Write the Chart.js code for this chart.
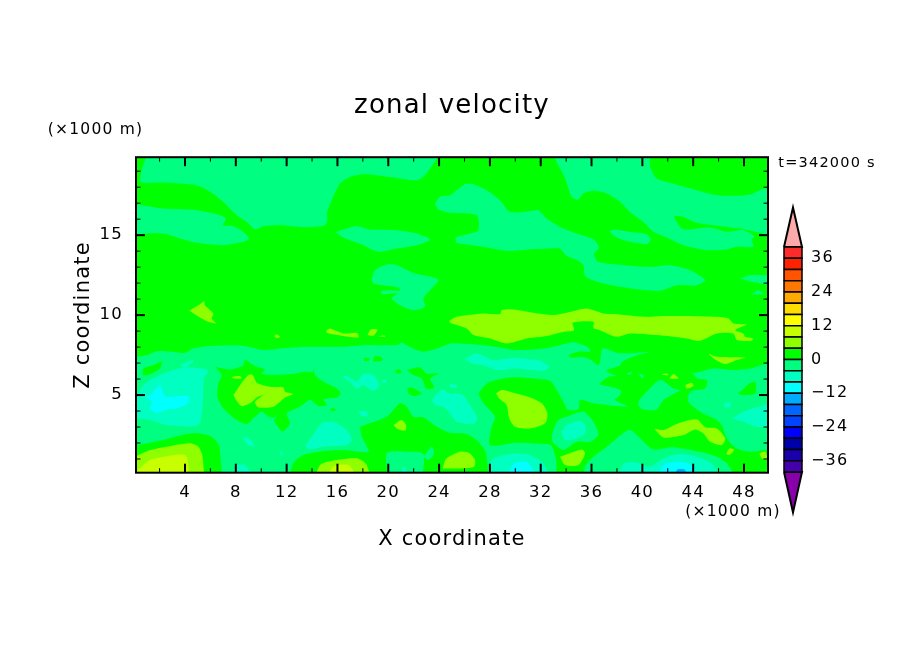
<!DOCTYPE html>
<html>
<head>
<meta charset="utf-8">
<title>zonal velocity</title>
<script src="https://cdn.jsdelivr.net/npm/chart.js@4/dist/chart.umd.min.js"></script>
<style>
  html, body { margin: 0; padding: 0; background: #fff; }
  #wrap { position: relative; width: 904px; height: 654px; overflow: hidden; }
  canvas { position: absolute; display: block; }
  #field { left: 0; top: 0; }
  #bar { left: 770px; top: 189px; }
</style>
</head>
<body>
<div id="wrap">
  <canvas id="field" width="904" height="654"></canvas>
  <canvas id="bar" width="100" height="342"></canvas>
</div>
<script>
'use strict';
// contour bands: [x km, z km] outlines, painted in order

const xLabelled = [4, 8, 12, 16, 20, 24, 28, 32, 36, 40, 44, 48];
const xMinor = [2, 6, 10, 14, 18, 22, 26, 30, 34, 38, 42, 46];
const zLabelled = [5, 10, 15];
const zMinor = [1, 2, 3, 4, 6, 7, 8, 9, 11, 12, 13, 14, 16, 17, 18, 19];
const barLabelled = [-36, -24, -12, 0, 12, 24, 36];

const barLevels = [-40, -36, -32, -28, -24, -20, -16, -12, -8, -4, 0, 4, 8, 12, 16, 20, 24, 28, 32, 36, 40];
const barColors = ['#4400aa', '#1a00aa', '#0000aa', '#0000ff', '#0044ff', '#0066ff', '#00aaff', '#00ffff', '#00ffc0', '#00ff80',
  '#00ff00', '#8fff00', '#c8ff00', '#ffff00', '#ffdd00', '#ffaa00', '#ff7700', '#ff5500', '#ff2200', '#ff2a2a'];
const overColor = '#ffaaaa';
const underColor = '#8800aa';

// 0..4 fills the whole plot
const bandBase = [[[-1, -1], [51, -1], [51, 21], [-1, 21]]];

// -4..0, upper half and the large lower sheet
const bandSpring = [
  [[.93, 20], [.93, 19.85], [.59, 19.06], [.54, 18.33], [2.29, 18.29], [4.92, 18.12], [5.97, 17.71], [7.02, 17.08], [8.07, 16.25], [8.86, 15.83], [9.51, 15.37], [10.17, 15.56], [11.48, 15.62], [13.32, 15.5], [15.02, 15.62], [15.21, 16.04], [15.16, 16.35], [15.55, 17.19], [16.2, 18.23], [16.99, 18.64], [18.04, 18.81], [20.14, 18.64], [22.24, 18.43], [22.9, 18.75], [23.82, 19.79], [23.9, 20]],
  [[-.5, 16.95], [.2, 16.91], [2.29, 16.66], [4.92, 16.56], [6.76, 16.25], [7.23, 16.04], [6.97, 15.62], [7.81, 15.56], [8.59, 15.2], [9.04, 14.79], [8.59, 14.58], [7.02, 14.37], [4.92, 14.52], [3.61, 14.79], [2.29, 15.1], [.85, 15.1], [-.5, 15]],
  [[15.86, 15.2], [17.52, 15.56], [18.57, 15.35], [20.67, 15.31], [22.24, 15.1], [23.29, 14.73], [22.24, 14.37], [20.67, 14.16], [19.22, 13.96], [18.04, 14.37], [16.47, 14.85]],
  [[18.7, 12.29], [18.96, 12.81], [19.88, 13.16], [20.67, 13.12], [21.98, 12.64], [23.95, 12.23], [23.29, 11.56], [22.77, 11.04], [22.9, 10.52], [21.98, 10.31], [20.93, 10.62], [20.27, 11.04], [20.67, 11.35], [19.49, 11.31], [19.49, 11.52], [20.93, 11.56], [20.8, 11.73], [18.83, 11.98]],
  [[23.69, 16.98], [24.08, 17.4], [24.86, 17.5], [25.38, 17.81], [26.04, 18.19], [26.7, 18.19], [27.75, 17.81], [28.8, 17.19], [29.58, 16.46], [31.16, 16.5], [31.82, 16.56], [32.47, 16.04], [33.78, 15.41], [34.83, 15.1], [36.15, 14.73], [36.59, 14.23], [36.2, 13.81], [36.54, 13.33], [38.51, 13.12], [40.61, 13.02], [42.18, 13.12], [43.76, 12.81], [44.94, 12.19], [44.28, 11.87], [42.71, 11.87], [41.4, 11.52], [39.82, 11.6], [37.98, 11.81], [36.41, 12.08], [35.49, 12.44], [35.36, 13.12], [34.83, 13.44], [34.05, 13.69], [33.52, 14.14], [32.73, 14.16], [31.16, 14.1], [29.32, 14.02], [27.48, 14.27], [25.38, 14.52], [25.33, 14.85], [26.43, 15.1], [27.09, 15.31], [26.96, 16.25], [24.86, 16.39], [23.95, 16.6]],
  [[33.13, 20], [33.13, 19.79], [33.92, 18.54], [34.44, 17.39], [34.96, 17.23], [35.36, 17.6], [36.15, 17.77], [37.2, 17.6], [38.25, 17.08], [39.16, 16.35], [40.08, 15.83], [40.87, 15.21], [41.92, 14.85], [43.23, 14.37], [45.07, 14.06], [46.64, 14.1], [47.43, 14.27], [48.74, 14.27], [48.61, 14.69], [48.8, 14.93], [47.96, 15.31], [46.64, 15.21], [45.33, 15.48], [43.5, 15.35], [43.1, 15.41], [42.5, 16.19], [43.23, 16.14], [44.28, 15.77], [46.12, 15.56], [47.7, 15.41], [49.27, 15.14], [50.5, 15.1], [50.5, 17.85], [49.66, 17.91], [48.48, 17.54], [47.43, 17.46], [45.86, 17.5], [44.28, 17.81], [42.18, 18.27], [41.13, 18.54], [40.61, 19.27], [40.48, 20]],
  [[37.41, 15.21], [37.72, 15.35], [39.03, 15.2], [40.35, 15.06], [40.66, 14.73], [40.35, 14.44], [39.03, 14.58], [37.98, 14.85]],
  [[47.69, 12.29], [48.48, 12.5], [50.5, 12.39], [50.5, 11.87], [49.01, 12.02]],
  [[48.61, 11.31], [49.14, 11.56], [49.53, 11.31]],
  [[-.5, 7.3], [1, 7.5], [1.9, 7.75], [3.1, 7.7], [4, 7.64], [4.66, 7.91], [5.97, 8.06], [8.33, 8.1], [9.65, 7.91], [10.17, 7.81], [11.48, 7.91], [13.58, 8.02], [16.47, 8.02], [18.04, 8.12], [20.67, 8.12], [21.06, 8.29], [21.46, 8.12], [21.98, 7.91], [22.77, 7.71], [23.82, 7.91], [24.87, 8.23], [25.65, 8.23], [27.48, 8.12], [28.8, 7.98], [30.11, 7.81], [32.21, 7.91], [34.05, 8.23], [34.7, 8.29], [35.75, 7.98], [35.89, 7.71], [34.97, 7.71], [34.18, 7.5], [34.44, 7.33], [35.23, 7.39], [35.89, 7.23], [36.54, 6.87], [36.67, 7.08], [36.88, 7.91], [37.98, 7.64], [39.03, 7.6], [40.56, 7.64], [43.89, 6.39], [45.6, 6.66], [47.17, 6.56], [48.49, 6.66], [49.8, 6.98], [50.5, 7], [50.5, -1], [-.5, -1]]
];

// 0..4 again, patches lying on the lower sheet
const bandGreen = [
  [[27.09, 5.1], [27.49, 5.52], [28.01, 5.83], [29.59, 6.1], [31.42, 6.04], [32.73, 5.89], [33.26, 5.31], [33.92, 4.37], [34.1, 4.1], [34.97, 4.1], [35.1, 4.69], [36.15, 4.48], [38.9, 4.27], [37.85, 4.69], [38.25, 5], [38.3, 5.31], [37.72, 5.48], [36.67, 5.69], [37.33, 6.14], [37.93, 6.19], [37.15, 6.52], [38.25, 6.87], [38.51, 7.14], [40.56, 7.64], [43.89, 6.39], [44.29, 6.04], [45.07, 5.94], [44.94, 5.41], [43.76, 5.21], [43.63, 4.58], [44.55, 3.96], [45.86, 3.44], [46.25, 3.12], [46.65, 2.29], [47.44, 1.66], [48.49, 1.46], [49.8, 1.56], [50.5, 1.5], [50.5, -1], [47.17, -1], [47.17, 0], [46.65, .73], [45.86, 1.14], [45.07, 1.35], [42.45, 1.73], [40.87, 1.6], [40.09, 2.08], [39.03, 2.81], [37.98, 2.29], [37.2, 1.77], [36.15, 1.14], [35.49, .52], [35.23, -1], [33.39, -1], [33.21, .94], [32.81, 1.87], [32.21, 1.94], [30.11, 2.02], [28.01, 1.87], [28.14, 3.02], [28.4, 3.64], [27.49, 4.48]],
  [[17.78, 3.02], [19.88, 3.64], [20.93, 4.48], [21.46, 4.27], [21.98, 3.64], [22.77, 3.6], [23.82, 3.02], [24.87, 2.64], [26.17, 2.56], [27.09, 2.08], [27.7, 1.35], [27.62, -1], [22.82, -1], [22.77, 1.31], [21.46, 1.46], [19.88, 1.35], [19.83, -1], [12.22, -1], [12.53, .73], [13.32, 1.25], [14.63, 1.46], [16.47, 1.56], [18.44, 1.46], [17.91, 2.39]],
  [[6.36, 6.77], [7.55, 6.6], [8.6, 6.87], [8.73, 7.23], [9.17, 6.98], [9.65, 6.77], [10.3, 6.6], [10.04, 6.35], [10.96, 6.25], [12.8, 6.35], [13.32, 6.46], [14.06, 6.46], [14.11, 6.66], [14.24, 6.25], [14.9, 5.83], [15.95, 5.41], [16.26, 5.1], [15.95, 4.85], [14.9, 4.73], [15.16, 4.37], [14.5, 4.31], [13.85, 4.69], [13.06, 4.27], [12.01, 3.85], [12.27, 3.23], [11.69, 2.71], [11.22, 3.12], [11.01, 3.44], [11.22, 3.6], [10.7, 3.6], [10.04, 3.96], [9.51, 3.64], [8.86, 3.19], [8.07, 3.44], [7.02, 4.16], [6.55, 4.89], [6.63, 5.73], [6.89, 6.25]],
  [[.67, 6.25], [.72, 6.66], [1.51, 6.87], [2.16, 7.08], [2.03, 6.66], [1.11, 6.25]],
  [[18.04, 7.29], [18.44, 7.35], [18.52, 7.19], [18.18, 7.12]],
  [[18.78, 7.08], [18.96, 7.44], [19.57, 7.29], [19.49, 7.14]],
  [[20.54, 6.56], [20.93, 6.6], [21.06, 6.39], [20.67, 6.35]],
  [[21.46, 6.56], [22.51, 6.73], [23.03, 6.35], [23.95, 6.35], [23.3, 6.04], [23.61, 5.48], [22.98, 5.41], [22.64, 6.04], [21.98, 6.25]],
  [[21.51, 5.41], [21.85, 5.48], [22.64, 5.1], [21.98, 4.94], [21.59, 5.1]],
  [[15.42, 4.1], [15.63, 4.21], [15.89, 4.06], [15.55, 3.98]],
  [[47.49, 5.1], [48.09, 5.48], [48.35, 5.69], [48.88, 5.83], [48.88, 5.1], [47.96, 5]],
  [[-.5, 1.87], [.2, 1.87], [2.03, 2.14], [4.13, 2.56], [5.18, 2.6], [6.1, 2.39], [6.71, 1.77], [6.55, -1], [-.5, -1]]
];

// 4..8
const bandLime = [
  [[4.34, 10.27], [5.18, 10.68], [5.5, 10.87], [5.57, 10.62], [6.23, 10.1], [6.1, 9.79], [6.44, 9.48], [5.84, 9.58], [5.31, 9.79]],
  [[24.81, 9.64], [25.38, 9.89], [27.48, 10.1], [28.8, 10.06], [28.93, 10.31], [29.85, 10.35], [31.42, 10.14], [33, 10], [34.05, 10.14], [35.62, 10.41], [36.93, 10.1], [37.98, 10.06], [40.35, 9.89], [41.66, 9.94], [43.23, 9.94], [45.86, 9.89], [46.78, 9.79], [47.17, 9.48], [48.22, 9.41], [47.69, 9.23], [47.3, 9.06], [47.96, 8.85], [48.09, 8.64], [48.69, 8.54], [48.61, 8.39], [47.43, 8.44], [47.17, 8.85], [45.86, 8.85], [44.54, 8.39], [43.5, 8.54], [41.13, 8.75], [39.03, 8.85], [37.98, 8.64], [36.67, 9.06], [36.15, 9.2], [36.15, 9.58], [34.52, 9.52], [34.62, 9.06], [33.78, 8.96], [32.47, 8.69], [30.9, 8.54], [29.32, 8.23], [28.01, 8.54], [26.7, 8.75], [26.17, 9.16], [24.86, 9.52]],
  [[15.15, 9.06], [15.42, 9.16], [16.47, 8.85], [17.52, 8.89], [17.65, 8.6], [16.47, 8.69], [15.15, 8.89]],
  [[18.36, 8.75], [18.62, 9.1], [19.15, 9.1], [18.83, 8.71]],
  [[11.01, 8.69], [11.22, 8.81], [11.48, 8.64], [11.22, 8.56]],
  [[19.15, 8.69], [19.75, 8.73], [19.75, 8.64]],
  [[7.81, 5], [8.33, 5.62], [8.99, 6.25], [9.33, 6.25], [9.65, 5.77], [10.7, 5.52], [11.75, 5.48], [11.88, 5.21], [12.53, 5.06], [11.88, 4.85], [10.96, 4.27], [9.78, 4.23], [9.51, 4.58], [10.17, 5], [9.65, 4.85], [9.12, 4.48], [8.46, 4.31], [8.02, 4.69]],
  [[7.68, 6.14], [8.33, 6.19], [8.46, 6.04], [7.81, 6.04]],
  [[-.5, 1.21], [.2, 1.21], [1.25, 1.56], [2.56, 1.77], [4.4, 1.98], [5.05, 1.77], [5.39, 1.14], [5.24, -1], [-.5, -1]],
  [[13.98, -1], [14.63, .62], [15.95, .94], [17.52, 1.04], [18.31, .62], [18.57, -1]],
  [[24.29, .41], [24.48, .94], [24.87, 1.19], [25.65, 1.46], [26.43, 1.35], [26.83, .94], [26.75, .52], [25.65, .41]],
  [[20.41, 3.12], [21.06, 3.44], [21.4, 3.12], [21.33, 2.77], [20.67, 2.91]],
  [[28.48, 5.1], [28.93, 5.31], [29.85, 5.14], [31.16, 4.85], [32.08, 4.48], [32.53, 3.85], [32.34, 3.23], [31.16, 2.91], [29.98, 3.02], [29.53, 3.54], [29.32, 4.37], [28.8, 4.73]],
  [[33.52, 1.14], [35.23, 1.6], [35.49, 1.35], [34.97, .62], [33.92, .62]],
  [[40.93, 2.91], [41.66, 2.81], [42.71, 3.19], [44.29, 3.48], [44.94, 2.98], [45.86, 2.91], [46.52, 2.29], [46.25, 1.87], [45.34, 2.08], [44.81, 2.6], [44.15, 2.85], [43.24, 2.5], [41.66, 2.35]],
  [[46.6, 1.31], [46.86, 1.66], [47.23, 1.56], [46.86, 1.25]],
  [[49.22, 1.35], [49.67, 1.46], [49.85, .94], [49.4, 1.04]],
  [[49.67, -1], [49.85, .52], [50.5, .5], [50.5, -1]],
  [[45.2, 7.6], [45.86, 7.39], [48.09, 7.35], [47.43, 7.19], [46.52, 6.94], [45.6, 7.29]],
  [[41.53, 6.31], [41.92, 6.35], [42.05, 6.25], [41.66, 6.25]],
  [[42.13, 6.04], [42.45, 6.31], [42.84, 6.04]],
  [[43.37, 5.62], [43.89, 5.77], [44.02, 5.56], [43.5, 5.41]]
];

// -4..0 holes inside the green patches
const bandSpringHoles = [
  [[22.77, 1.14], [23.43, 1.77], [23.61, 1.35], [23.16, .94]],
  [[33, 1.98], [32.87, 2.29], [33, 2.81], [33.39, 3.44], [34.05, 3.64], [35.36, 3.96], [36.15, 3.33], [36.54, 2.5], [35.89, 2.08], [34.84, 2.08], [33.79, 1.56]],
  [[39.74, 4.69], [40.35, 5.21], [41.4, 5.94], [42.45, 5.41], [42.97, 5.31], [41.66, 4.69], [41.13, 4.1], [40.09, 4.1], [39.69, 4.37]],
  [[38.77, 6.35], [39.17, 6.46], [39.04, 6.25]],
  [[39.69, 6.35], [40.09, 6.25], [40.03, 6.04]]
];

// -8..-4
const bandTeal = [
  [[-.5, 5], [.2, 5], [.72, 5.62], [2.03, 6.25], [3.87, 6.73], [5.84, 6.56], [5.5, 6.04], [5.45, 5.41], [5.39, 4.27], [5.05, 3.12], [2.56, 3.12], [1.25, 3.44], [.2, 3.54], [-.5, 3.54]],
  [[3.6, 6.87], [4.66, 7.23], [4.66, 7.08], [4, 6.73]],
  [[13.45, 1.87], [13.98, 2.39], [14.76, 3.23], [15.68, 3.33], [16.73, 2.81], [17.13, 2.19], [16.73, 1.87], [14.9, 1.77], [13.71, 1.6]],
  [[8.54, 2.29], [8.99, 2.35], [9.51, 1.77], [8.99, 1.87]],
  [[11.48, 1.56], [11.75, 1.25], [11.48, 1.25]],
  [[8.07, .62], [8.73, .62], [9.9, -1], [8.07, -1]],
  [[20.88, -1], [21.2, .56], [21.98, -1]],
  [[16.34, 6.14], [16.73, 6.19], [17.52, 5.83], [18.04, 6.31], [18.83, 6.25], [19.3, 5.62], [18.83, 5.25], [18.04, 5.62], [17.52, 5.41], [16.99, 5.83]],
  [[19.49, 5.89], [19.83, 5.98], [19.83, 5.77], [19.57, 5.77]],
  [[17.65, 3.96], [18.31, 3.96], [18.36, 3.69], [17.91, 3.69]],
  [[23.43, 4.69], [24.21, 5.35], [24.87, 5.1], [25.78, 5.06], [26.43, 4.37], [27.01, 3.54], [26.7, 3.19], [25.39, 3.33], [25, 3.69], [24.35, 4.27], [23.69, 4.37]],
  [[24.86, 5.69], [25.39, 5.62], [25.39, 5.48], [24.86, 5.48]],
  [[26.04, 7.29], [26.96, 7.6], [28.27, 7.19], [29.85, 7.33], [31.16, 7.23], [31.82, 7.19], [32.68, 6.77], [32.21, 6.52], [30.11, 6.66], [28.67, 6.56], [27.49, 6.87], [26.57, 6.98]],
  [[27.75, -1], [28.14, .94], [29.32, 1.29], [30.9, 1.31], [32.21, .73], [32.87, -1]],
  [[37.72, -1], [38.51, .69], [39.56, .77], [40.61, .52], [41.66, 1.04], [42.97, 1.31], [44.29, 1.14], [45.6, .62], [46.12, -1]],
  [[47.04, 3.54], [47.96, 3.96], [49.14, 4.27], [50.5, 4.5], [50.5, 3.1], [49.01, 3.02], [47.96, 3.33]],
  [[46.44, 4.48], [46.91, 4.56], [46.91, 4.27], [46.52, 4.23]],
  [[33.65, 2.71], [34.05, 3.12], [35.1, 3.39], [35.49, 3.12], [35.49, 2.6], [34.84, 2.29], [33.92, 2.19]]
];

// -12..-8
const bandCyan = [
  [[.72, 4.89], [1.25, 5], [1.64, 5.31], [2.03, 5.62], [2.3, 5.1], [2.56, 4.89], [4.26, 4.94], [4.26, 4.48], [3.35, 4.16], [2.56, 4.1], [1.77, 3.89], [1.25, 4.16], [1.38, 4.58], [1, 4.85]],
  [[28.93, -1], [29.85, .69], [31.03, .77], [31.82, -1]],
  [[40.87, -1], [41.66, .62], [42.97, .83], [44.02, .52], [44.29, -1]]
];

// -16..-12
const bandBlue = [[[42.32, -1], [42.71, .31], [43.37, .31], [43.55, -1]]];

// 8..12
const bandYellow = [
  [[-.5, .2], [.2, .27], [1.25, .94], [2.82, 1.21], [4, 1.25], [4.26, .73], [4.08, -1], [-.5, -1]],
  [[14.76, -1], [15.68, .52], [16.99, .56], [17.57, -1]]
];

const FONT = '"DejaVu Sans", sans-serif';

function shapeDataset(outline, color, borderColor, borderWidth, tension) {
  const pts = outline.concat([outline[0]]).map(p => ({ x: p[0], y: p[1] }));
  return { data: pts, showLine: true, fill: 'shape', backgroundColor: color, borderColor: borderColor || color,
    borderWidth: borderWidth === undefined ? 0 : borderWidth, pointRadius: 0, tension: tension || 0 };
}

const paintOrder = [
  [bandBase, '#00ff00'], [bandSpring, '#00ff80'], [bandGreen, '#00ff00'], [bandLime, '#8fff00'],
  [bandSpringHoles, '#00ff80'], [bandTeal, '#00ffc0'], [bandCyan, '#00ffff'], [bandBlue, '#00aaff'], [bandYellow, '#c8ff00']
];
const fieldSets = [];
paintOrder.forEach(([polys, color]) => polys.forEach(p => fieldSets.push(shapeDataset(p, color, color, 0, polys === bandBase ? 0 : .25))));
// chart.js paints the last dataset first
fieldSets.reverse();

const spacing = {
  id: 'spacing',
  beforeDraw(chart) { chart.ctx.letterSpacing = '1.2px'; }
};

const frameTicks = {
  id: 'frameTicks',
  afterDatasetsDraw(chart) {
    const { ctx, chartArea: a, scales: { x, y } } = chart;
    ctx.save();
    ctx.strokeStyle = '#000';
    const seg = (x1, y1, x2, y2, w) => {
      ctx.lineWidth = w; ctx.beginPath(); ctx.moveTo(x1, y1); ctx.lineTo(x2, y2); ctx.stroke();
    };
    xLabelled.forEach(v => { const p = x.getPixelForValue(v); seg(p, a.top, p, a.top + 9, 2); seg(p, a.bottom, p, a.bottom - 9, 2); });
    xMinor.forEach(v => { const p = x.getPixelForValue(v); seg(p, a.top, p, a.top + 4.5, 1); seg(p, a.bottom, p, a.bottom - 4.5, 1); });
    zLabelled.forEach(v => { const p = y.getPixelForValue(v); seg(a.left, p, a.left + 9, p, 2); seg(a.right, p, a.right - 9, p, 2); });
    zMinor.forEach(v => { const p = y.getPixelForValue(v); seg(a.left, p, a.left + 4.5, p, 1); seg(a.right, p, a.right - 4.5, p, 1); });
    ctx.lineWidth = 2;
    ctx.strokeRect(a.left, a.top, a.right - a.left, a.bottom - a.top);
    ctx.restore();
  },
  afterDraw(chart) {
    const ctx = chart.ctx;
    ctx.save();
    ctx.fillStyle = '#000';
    ctx.textAlign = 'center';
    ctx.textBaseline = 'middle';
    ctx.font = '15.5px ' + FONT;
    ctx.fillText('(×1000 m)', 95.5, 130);
    ctx.fillText('(×1000 m)', 733, 511.5);
    ctx.font = '14.5px ' + FONT;
    ctx.fillText('t=342000 s', 827, 163);
    ctx.restore();
  }
};

new Chart(document.getElementById('field'), {
  type: 'scatter',
  data: { datasets: fieldSets },
  plugins: [spacing, frameTicks],
  options: {
    responsive: false, animation: false, events: [],
    layout: { padding: 0 },
    plugins: {
      legend: { display: false }, tooltip: { enabled: false },
      title: { display: true, text: 'zonal velocity', color: '#000',
        font: { family: FONT, size: 26, weight: 'normal' }, padding: { top: 91, bottom: 35 } }
    },
    scales: {
      x: {
        type: 'linear', min: .143, max: 49.89,
        grid: { display: false, drawTicks: false }, border: { display: false },
        afterBuildTicks(s) { s.ticks = xLabelled.map(v => ({ value: v })); },
        afterFit(s) { s.height = 181.3; },
        ticks: { color: '#000', padding: 10, autoSkip: false, maxRotation: 0, font: { family: FONT, size: 16.5 } },
        title: { display: true, text: 'X coordinate', color: '#000', font: { family: FONT, size: 21 }, padding: { top: 0, bottom: 102 } }
      },
      y: {
        type: 'linear', min: .144, max: 19.875,
        grid: { display: false, drawTicks: false }, border: { display: false },
        afterBuildTicks(s) { s.ticks = zLabelled.map(v => ({ value: v })); },
        afterFit(s) { s.width = 136; },
        ticks: { color: '#000', padding: 13, autoSkip: false, font: { family: FONT, size: 16.5 } },
        title: { display: true, text: 'Z coordinate', color: '#000', font: { family: FONT, size: 21 }, padding: { top: 71, bottom: 0 } }
      },
      // empty axis that only keeps the room for the colour bar
      rightGap: {
        type: 'linear', position: 'right', min: 0, max: 1,
        grid: { display: false, drawTicks: false }, border: { display: false },
        ticks: { display: false },
        afterFit(s) { s.width = 136; }
      }
    }
  }
});

// colour bar: boxes built from the level list, one triangle at each end
const barSets = barColors.map((c, i) => shapeDataset([[0, barLevels[i]], [1, barLevels[i]], [1, barLevels[i + 1]], [0, barLevels[i + 1]]], c, '#000', 1.5));
barSets.push(shapeDataset([[0, 40], [.5, 54], [1, 40]], overColor, '#000', 2));
barSets.push(shapeDataset([[0, -40], [.5, -54.4], [1, -40]], underColor, '#000', 2));
barSets.forEach(d => { d.clip = false; });

new Chart(document.getElementById('bar'), {
  type: 'scatter',
  data: { datasets: barSets },
  plugins: [spacing],
  options: {
    responsive: false, animation: false, events: [],
    layout: { padding: { left: 14, right: 0, top: 6, bottom: 5 } },
    plugins: { legend: { display: false }, tooltip: { enabled: false } },
    scales: {
      x: { type: 'linear', min: 0, max: 1, display: false },
      y: {
        type: 'linear', position: 'right', min: -54.4, max: 54,
        grid: { display: false, drawTicks: false }, border: { display: false },
        afterBuildTicks(s) { s.ticks = barLabelled.map(v => ({ value: v })); },
        afterFit(s) { s.width = 68; },
        ticks: { color: '#000', padding: 9, autoSkip: false, font: { family: FONT, size: 16 },
          callback: v => String(v).replace('-', '\u2212') }
      }
    }
  }
});
</script>
</body>
</html>
